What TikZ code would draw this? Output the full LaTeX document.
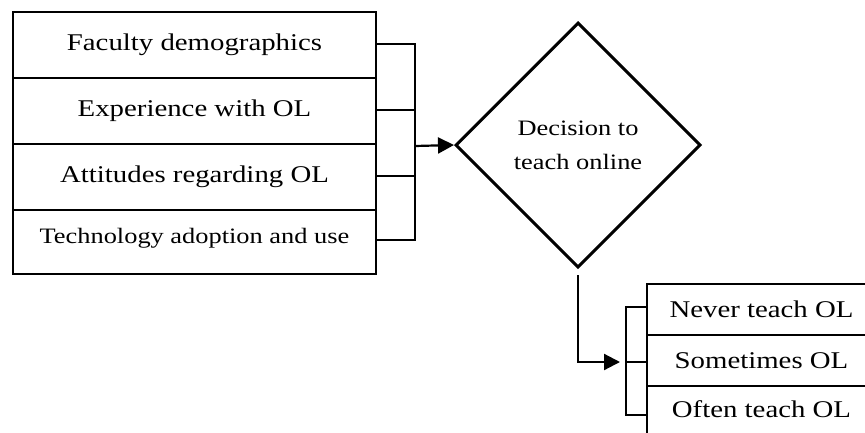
\documentclass[tikz,border=0pt]{standalone}
\usepackage{fontspec}
\setmainfont{Liberation Serif}[FakeStretch=1.2]
\usetikzlibrary{shapes.geometric,arrows.meta}
\tikzset{
  row/.style={draw=black,line width=2pt,rectangle,inner sep=0pt,font=\fontsize{24}{28}\selectfont},
  thin/.style={draw=black,line width=1.1pt},
  arr/.style={draw=black,line width=2.2pt,-{Triangle[length=16pt,width=16pt]}},
  dec/.style={draw=black,line width=3pt,diamond,aspect=1,minimum width=245pt,minimum height=245pt,inner sep=0pt,align=center,font=\fontsize{22}{34}\selectfont}
}
\begin{document}
\begin{tikzpicture}[x=1pt,y=-1pt]
\useasboundingbox (0,0) rectangle (865,432);
% left box rows
\node[row,minimum width=363pt,minimum height=66pt] (r1) at (194.5,45) {Faculty demographics};
\node[row,minimum width=363pt,minimum height=66pt] (r2) at (194.5,111) {Experience with OL};
\node[row,minimum width=363pt,minimum height=66pt] (r3) at (194.5,177) {Attitudes regarding OL};
\node[row,minimum width=363pt,minimum height=64pt,font=\fontsize{22}{26}\selectfont,text depth=12pt] (r4) at (194.5,242) {Technology adoption and use};
% bracket
\coordinate (b1) at (415,44);
\coordinate (b2) at (415,110);
\coordinate (b3) at (415,176);
\coordinate (b4) at (415,240);
\coordinate (bm) at (415,146);
\draw[thin] (r1.east |- b1) -- (b1) -- (b4) -- (r4.east |- b4);
\draw[thin] (r2.east |- b2) -- (b2);
\draw[thin] (r3.east |- b3) -- (b3);
% decision
\node[dec] (d) at (578,145) {Decision to\\teach online};
\draw[arr] (bm) -- (d.west);
% right box
\node[row,minimum width=229pt,minimum height=51pt] (o1) at (761.5,309.5) {Never teach OL};
\node[row,minimum width=229pt,minimum height=51pt] (o2) at (761.5,360.5) {Sometimes OL};
\node[row,minimum width=229pt,minimum height=54pt,text depth=8pt] (o3) at (761.5,413) {Often teach OL};
\coordinate (s0) at (578,275);
\coordinate (s1) at (578,362);
\coordinate (c1) at (626,307);
\coordinate (c2) at (626,362);
\coordinate (c3) at (626,415);
\draw[arr] (s0) -- (s1) -- (620,362);
\draw[thin] (o1.west |- c1) -- (c1) -- (c3) -- (o3.west |- c3);
\draw[thin] (c2) -- (o2.west |- c2);
\end{tikzpicture}
\end{document}
